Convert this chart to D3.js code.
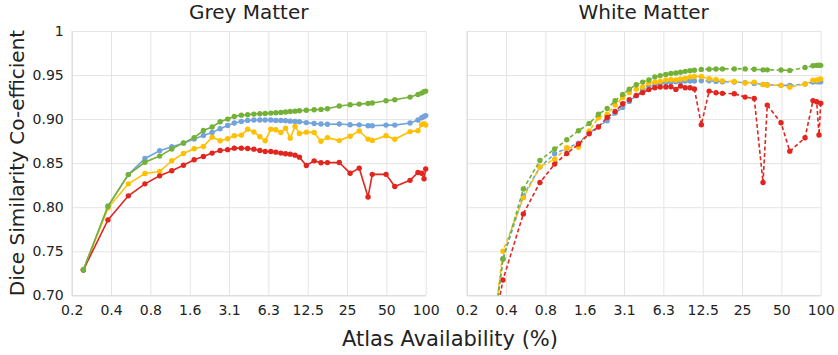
<!DOCTYPE html>
<html>
<head>
<meta charset="utf-8">
<script src="https://cdn.jsdelivr.net/npm/d3@7/dist/d3.min.js"></script>
<style>
  body { margin: 0; background: #fff; }
  text { font-family: "DejaVu Sans", Verdana, sans-serif; fill: #222; }
</style>
</head>
<body>
<div id="chart"></div>
<script>
// atlas availability (%) of each sample
const atlasPct = [0.24, 0.37, 0.53, 0.71, 0.92, 1.14, 1.40, 1.69, 1.99, 2.32, 2.67, 3.05, 3.43, 3.88,
  4.34, 4.84, 5.38, 5.91, 6.53, 7.13, 7.79, 8.46, 9.19, 10.0, 10.8, 12.2, 14.0, 15.8, 17.7, 21.8,
  26.4, 31.0, 36.2, 39.0, 49.7, 58.0, 75.9, 87.3, 93.2, 97.1, 100];

const xTickValues = [0.1953125, 0.390625, 0.78125, 1.5625, 3.125, 6.25, 12.5, 25, 50, 100];
const xTickLabels = ["0.2", "0.4", "0.8", "1.6", "3.1", "6.3", "12.5", "25", "50", "100"];
const yTickValues = [0.70, 0.75, 0.80, 0.85, 0.90, 0.95, 1];
const yTickLabels = ["0.70", "0.75", "0.80", "0.85", "0.90", "0.95", "1"];

// grey matter
const gmGreen = [0.729, 0.801, 0.837, 0.851, 0.858, 0.866, 0.873, 0.879, 0.887, 0.891, 0.897, 0.900,
  0.903, 0.9045, 0.905, 0.9057, 0.906, 0.9064, 0.9068, 0.9072, 0.9076, 0.908, 0.9087, 0.909, 0.9095,
  0.910, 0.9106, 0.911, 0.9117, 0.9148, 0.9163, 0.917, 0.9178, 0.9182, 0.9208, 0.922, 0.925, 0.928,
  0.9295, 0.931, 0.9318];
const gmBlue = [0.729, 0.801, 0.837, 0.8553, 0.864, 0.8686, 0.8727, 0.8773, 0.8814, 0.8848, 0.889,
  0.8928, 0.8955, 0.8973, 0.8985, 0.8989, 0.8989, 0.8989, 0.8989, 0.8985, 0.8985, 0.8981, 0.8977,
  0.8973, 0.897, 0.896, 0.895, 0.8945, 0.8942, 0.8945, 0.8936, 0.8935, 0.8925, 0.8925, 0.8932,
  0.8932, 0.8955, 0.899, 0.9015, 0.903, 0.904];
const gmYellow = [0.729, 0.799, 0.8265, 0.8383, 0.8405, 0.8527, 0.861, 0.8663, 0.8689, 0.8795, 0.8754,
  0.8777, 0.8811, 0.8818, 0.8886, 0.8854, 0.8799, 0.8754, 0.8886, 0.8879, 0.8848, 0.8896, 0.8784,
  0.8917, 0.8837, 0.8852, 0.8848, 0.8748, 0.879, 0.8756, 0.8806, 0.8866, 0.8773, 0.8758, 0.8812,
  0.8771, 0.8858, 0.8869, 0.894, 0.8947, 0.8932];
const gmRed = [0.7288, 0.7856, 0.8129, 0.8265, 0.8356, 0.8413, 0.8477, 0.8538, 0.8576, 0.8614, 0.8644,
  0.8653, 0.867, 0.867, 0.8667, 0.8659, 0.8644, 0.8633, 0.8633, 0.8625, 0.8614, 0.8606, 0.8602,
  0.8591, 0.8568, 0.8473, 0.8526, 0.8504, 0.8506, 0.8508, 0.8386, 0.8443, 0.8115, 0.8373, 0.8373,
  0.8235, 0.8305, 0.8394, 0.8386, 0.8322, 0.8434];

// white matter
const wmGreen = [0.53, 0.741, 0.8207, 0.853, 0.866, 0.8765, 0.8867, 0.895, 0.9055, 0.912, 0.9208,
  0.928, 0.934, 0.939, 0.942, 0.9445, 0.9479, 0.9494, 0.9507, 0.9517, 0.9523, 0.9532, 0.9542,
  0.9549, 0.9555, 0.9564, 0.9566, 0.9568, 0.957, 0.957, 0.957, 0.9566, 0.9559, 0.9559, 0.9557,
  0.9553, 0.9585, 0.9606, 0.961, 0.9612, 0.961];
const wmBlue = [0.53, 0.7417, 0.8129, 0.8455, 0.8606, 0.867, 0.8727, 0.8841, 0.8917, 0.8981, 0.9068,
  0.9133, 0.9201, 0.9265, 0.933, 0.9372, 0.939, 0.9403, 0.9412, 0.9418, 0.9424, 0.9428, 0.9432,
  0.9432, 0.9432, 0.9436, 0.9436, 0.9428, 0.9424, 0.942, 0.9413, 0.9405, 0.9394, 0.939, 0.9383,
  0.9383, 0.9398, 0.942, 0.9424, 0.9424, 0.9424];
const wmYellow = [0.52, 0.750, 0.8106, 0.8458, 0.8545, 0.8674, 0.868, 0.8865, 0.9015, 0.9055, 0.916,
  0.9245, 0.930, 0.934, 0.9365, 0.941, 0.942, 0.943, 0.9445, 0.9449, 0.9445, 0.9455, 0.946, 0.9479,
  0.9483, 0.9483, 0.9458, 0.9449, 0.9434, 0.9426, 0.941, 0.942, 0.9392, 0.9385, 0.9383, 0.9362,
  0.9398, 0.9441, 0.9441, 0.9451, 0.9457];
const wmRed = [0.57, 0.7174, 0.7924, 0.828, 0.8489, 0.861, 0.8716, 0.8833, 0.8909, 0.9019, 0.9087,
  0.9174, 0.922, 0.9269, 0.930, 0.9335, 0.9356, 0.9364, 0.9364, 0.9367, 0.9337, 0.9375, 0.9356,
  0.9356, 0.9341, 0.8936, 0.9318, 0.9299, 0.9292, 0.9288, 0.925, 0.9235, 0.828, 0.9159, 0.8958,
  0.8636, 0.8788, 0.921, 0.9197, 0.882, 0.918];

const colors = { green: "#74b139", blue: "#72a3dc", yellow: "#ffc000", red: "#e0261f" };

const width = 838, height = 355;
const plotW = 354, plotH = 264.3;

const svg = d3.select("#chart").append("svg")
  .attr("width", width)
  .attr("height", height);

const x = d3.scaleLog().base(2).domain([0.1953125, 100]).range([0, plotW]);
const y = d3.scaleLinear().domain([0.70, 1]).range([plotH, 0]);

function drawPanel(left, title, series, dashed, showY, clipId) {
  const g = svg.append("g").attr("transform", "translate(" + left + ",31)");

  // grid
  g.append("g")
    .attr("transform", "translate(0," + plotH + ")")
    .call(d3.axisBottom(x).tickValues(xTickValues).tickSize(-plotH).tickFormat(""))
    .call(a => a.select(".domain").remove())
    .call(a => a.selectAll("line").attr("stroke", "#e4e4e4"));
  g.append("g")
    .call(d3.axisLeft(y).tickValues(yTickValues).tickSize(-plotW).tickFormat(""))
    .call(a => a.select(".domain").remove())
    .call(a => a.selectAll("line").attr("stroke", "#e4e4e4"));

  // axis lines + labels
  const xa = g.append("g")
    .attr("transform", "translate(0," + plotH + ")")
    .call(d3.axisBottom(x).tickValues(xTickValues).tickSize(0).tickPadding(10)
      .tickFormat((d, i) => xTickLabels[i]));
  xa.select(".domain").attr("stroke", "#d9d9d9");
  xa.selectAll("text").style("font-size", "14px").attr("fill", "#222");

  const ya = g.append("g")
    .call(d3.axisLeft(y).tickValues(yTickValues).tickSize(0).tickPadding(8)
      .tickFormat((d, i) => showY ? yTickLabels[i] : ""));
  ya.select(".domain").attr("stroke", "#d9d9d9");
  ya.selectAll("text").style("font-size", "14px").attr("fill", "#222");

  g.append("clipPath").attr("id", clipId)
    .append("rect").attr("x", -4).attr("y", -4).attr("width", plotW + 8).attr("height", plotH + 4);

  const plot = g.append("g").attr("clip-path", "url(#" + clipId + ")");
  const line = d3.line().x((d, i) => x(atlasPct[i])).y(d => y(d));

  series.forEach(s => {
    plot.append("path")
      .datum(s.values)
      .attr("fill", "none")
      .attr("stroke", s.color)
      .attr("stroke-width", 1.6)
      .attr("stroke-dasharray", dashed ? "4,2.5" : null)
      .attr("d", line);
    plot.selectAll(null)
      .data(s.values)
      .enter()
      .append("circle")
      .attr("cx", (d, i) => x(atlasPct[i]))
      .attr("cy", d => y(d))
      .attr("r", 2.7)
      .attr("fill", s.color);
  });

  g.append("text")
    .attr("x", plotW / 2)
    .attr("y", -12)
    .attr("text-anchor", "middle")
    .style("font-size", "20px")
    .text(title);
}

drawPanel(71.7, "Grey Matter", [
  { color: colors.blue, values: gmBlue },
  { color: colors.yellow, values: gmYellow },
  { color: colors.red, values: gmRed },
  { color: colors.green, values: gmGreen }
], false, true, "clipGM");

drawPanel(466.7, "White Matter", [
  { color: colors.blue, values: wmBlue },
  { color: colors.yellow, values: wmYellow },
  { color: colors.red, values: wmRed },
  { color: colors.green, values: wmGreen }
], true, false, "clipWM");

svg.append("text")
  .attr("x", 450)
  .attr("y", 346)
  .attr("text-anchor", "middle")
  .style("font-size", "21px")
  .text("Atlas Availability (%)");

svg.append("text")
  .attr("transform", "translate(24,163) rotate(-90)")
  .attr("text-anchor", "middle")
  .style("font-size", "20px")
  .text("Dice Similarity Co-efficient");
</script>
</body>
</html>
